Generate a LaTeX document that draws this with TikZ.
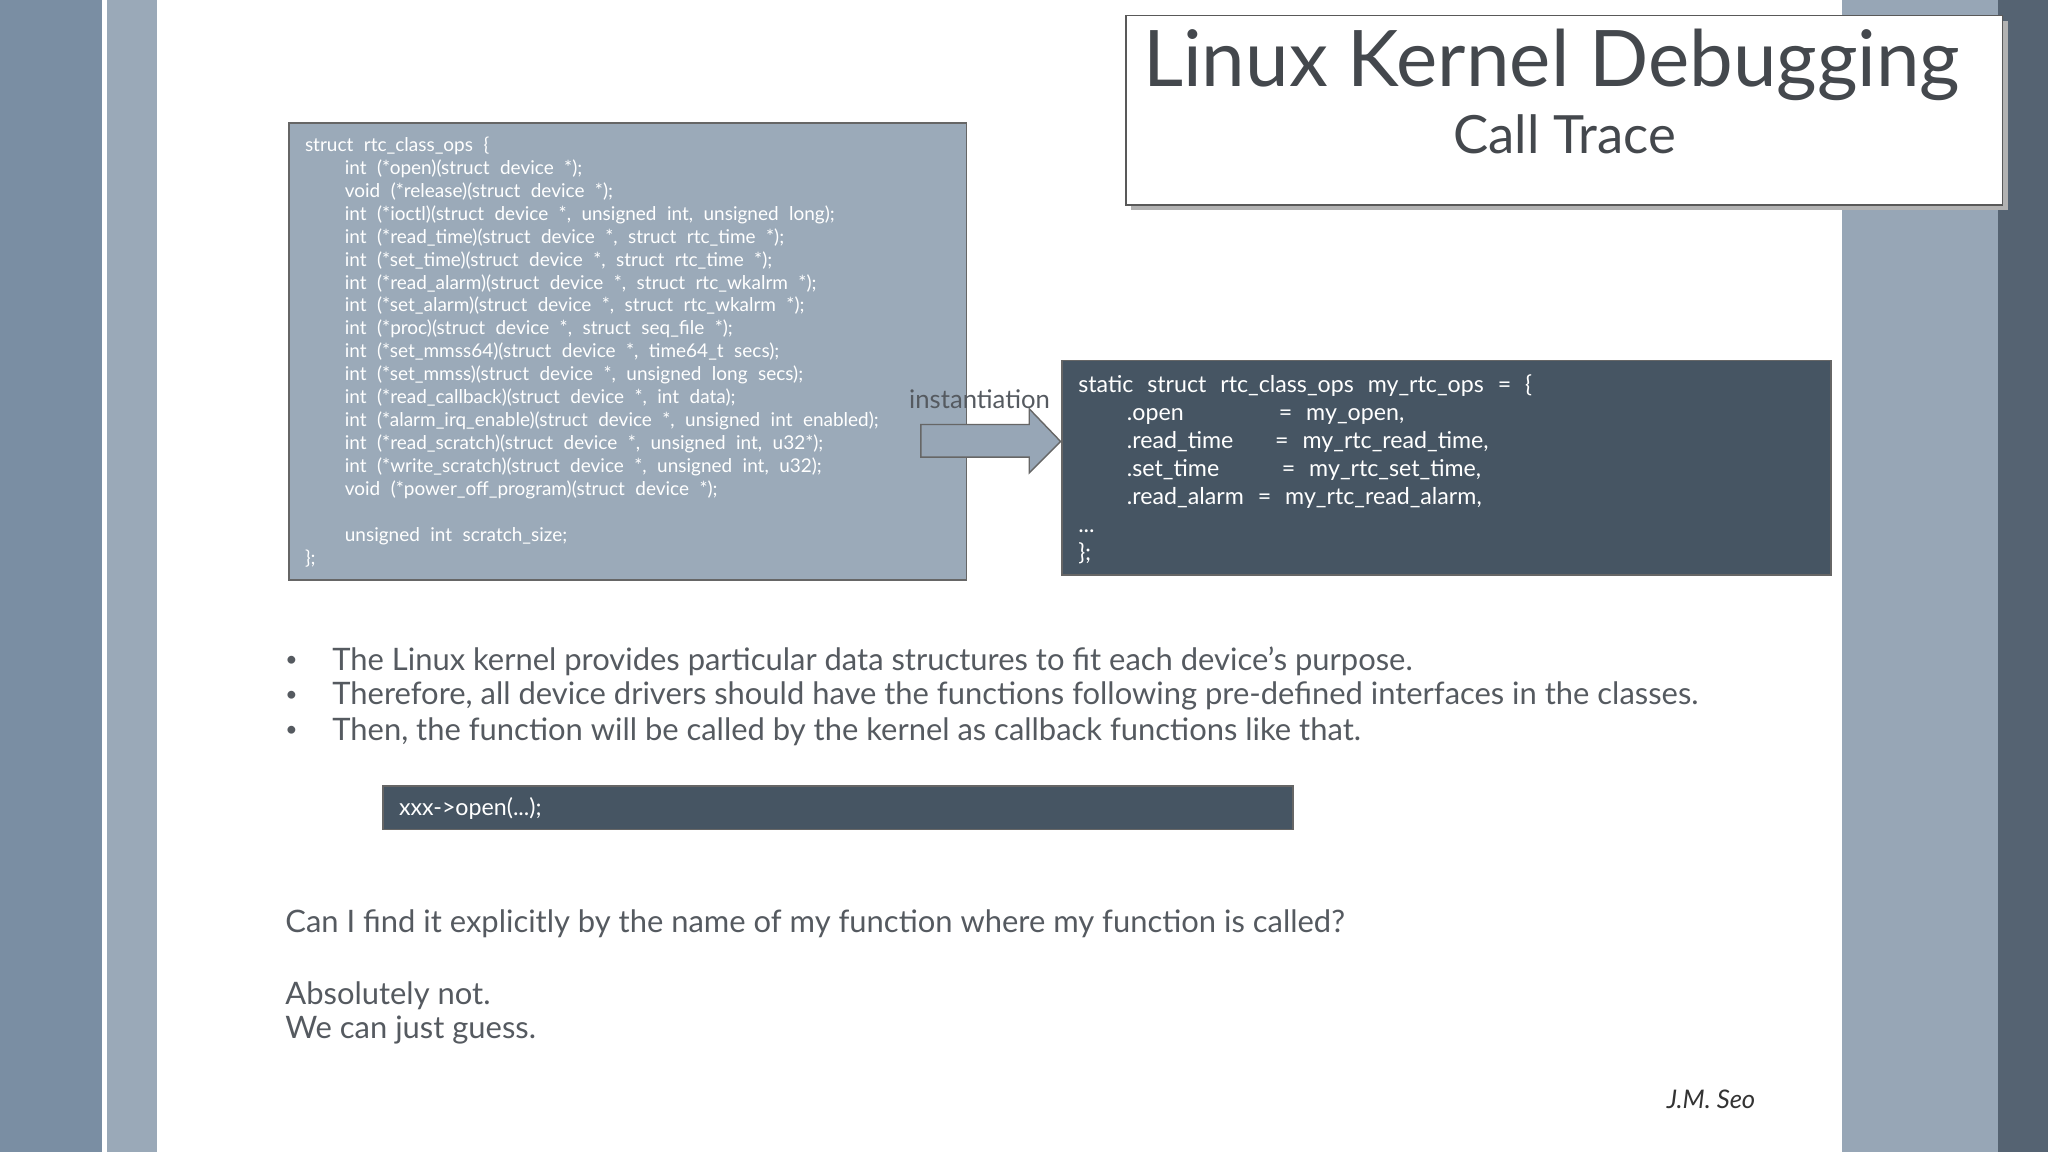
\documentclass[tikz,border=0pt]{standalone}
\usepackage{fontspec}
\setmainfont{Lato}
\usetikzlibrary{positioning}
\definecolor{stripdark}{HTML}{7A8EA3}
\definecolor{striplight}{HTML}{9AA9B8}
\definecolor{codelight}{HTML}{9BAAB9}
\definecolor{codedark}{HTML}{465563}
\definecolor{txtgray}{HTML}{555A60}
\newcommand{\ind}{\hspace*{2.1em}}
\newcommand{\codefontS}{\fontsize{5.4}{6.54}\selectfont\spaceskip=0.55em plus 0.1em\relax}
\newcommand{\codefontL}{\fontsize{6.6}{8}\selectfont\spaceskip=0.6em plus 0.1em\relax}
\begin{document}
\begin{tikzpicture}[x=0.013061cm,y=-0.013061cm,
    codebox/.style={draw=gray!80!black,line width=0.5pt},
    bodytext/.style={text=txtgray,font=\fontsize{8.8}{10}\selectfont,anchor=west,inner sep=0pt}]
  \useasboundingbox (0,0) rectangle (1568,882);
  % side strips
  \fill[white] (0,0) rectangle (1568,882);
  \fill[stripdark] (0,0) rectangle (78,882);
  \fill[striplight] (82,0) rectangle (120,882);
  \fill[striplight!90!stripdark] (1410,0) rectangle (1530,882);
  \fill[stripdark!70!black] (1530,0) rectangle (1568,882);
  % title
  \fill[gray!60] (866,16) rectangle (1537,161);
  \draw[fill=white,draw=gray!70!black] (862,12) rectangle (1533,157);
  \node[text=txtgray!80!black,font=\fontsize{22.2}{26}\selectfont,inner sep=0pt] (title) at (1188,50) {Linux Kernel Debugging};
  \node[text=txtgray!80!black,font=\fontsize{15}{18}\selectfont,inner sep=0pt] (subtitle) at (1198,103) {Call Trace};
  % left code box
  \draw[codebox,fill=codelight] (221,94) rectangle (740,444);
  \node[anchor=north west,align=left,text=white,inner sep=0pt,font=\codefontS] (ops) at (233,104) {%
    struct rtc\_class\_ops \{\\
    \ind int (*open)(struct device *);\\
    \ind void (*release)(struct device *);\\
    \ind int (*ioctl)(struct device *, unsigned int, unsigned long);\\
    \ind int (*read\_time)(struct device *, struct rtc\_time *);\\
    \ind int (*set\_time)(struct device *, struct rtc\_time *);\\
    \ind int (*read\_alarm)(struct device *, struct rtc\_wkalrm *);\\
    \ind int (*set\_alarm)(struct device *, struct rtc\_wkalrm *);\\
    \ind int (*proc)(struct device *, struct seq\_file *);\\
    \ind int (*set\_mmss64)(struct device *, time64\_t secs);\\
    \ind int (*set\_mmss)(struct device *, unsigned long secs);\\
    \ind int (*read\_callback)(struct device *, int data);\\
    \ind int (*alarm\_irq\_enable)(struct device *, unsigned int enabled);\\
    \ind int (*read\_scratch)(struct device *, unsigned int, u32*);\\
    \ind int (*write\_scratch)(struct device *, unsigned int, u32);\\
    \ind void (*power\_off\_program)(struct device *);\\
    ~\\
    \ind unsigned int scratch\_size;\\
    \};};
  % arrow
  \draw[draw=gray!80!black,fill=striplight!90!stripdark] (705,325) -- (788,325) -- (788,313)
    -- (812,338) -- (788,362) -- (788,350) -- (705,350) -- cycle;
  \node[text=txtgray,font=\fontsize{7.3}{9}\selectfont,inner sep=0pt] (instlabel) at (750,306) {instantiation};
  % right code box
  \draw[codebox,fill=codedark] (813,276) rectangle (1402,440);
  \node[anchor=north west,align=left,text=white,inner sep=0pt,font=\codefontL] (myops) at (825,286) {%
    static struct rtc\_class\_ops my\_rtc\_ops = \{\\
    \ind .open \hspace{2.9em} = my\_open,\\
    \ind .read\_time \hspace{0.6em} = my\_rtc\_read\_time,\\
    \ind .set\_time \hspace{1.5em} = my\_rtc\_set\_time,\\
    \ind .read\_alarm = my\_rtc\_read\_alarm,\\
    ...\\
    \};};
  % bullets
  \foreach \yy/\txt in {506/{The Linux kernel provides particular data structures to fit each device’s purpose.},
      533/{Therefore, all device drivers should have the functions following pre-defined interfaces in the classes.},
      560/{Then, the function will be called by the kernel as callback functions like that.}}{
    \node[bodytext,font=\fontsize{6}{8}\selectfont] at (218,\yy) {•};
    \node[bodytext] at (254,\yy) {\txt};
  }
  % call box
  \draw[codebox,fill=codedark] (293,602) rectangle (990,635);
  \node[anchor=west,text=white,inner sep=0pt,font=\fontsize{6.6}{8}\selectfont] (call) at (305,619) {xxx->open(...);};
  % question
  \node[bodytext] (question) at (218,707) {Can I find it explicitly by the name of my function where my function is called?};
  \node[bodytext] (answer1) at (218,762) {Absolutely not.};
  \node[bodytext] (answer2) at (218,789) {We can just guess.};
  \node[text=black!80,font=\fontsize{7.3}{9}\itshape,inner sep=0pt] (author) at (1310,842) {J.M. Seo};
\end{tikzpicture}
\end{document}
